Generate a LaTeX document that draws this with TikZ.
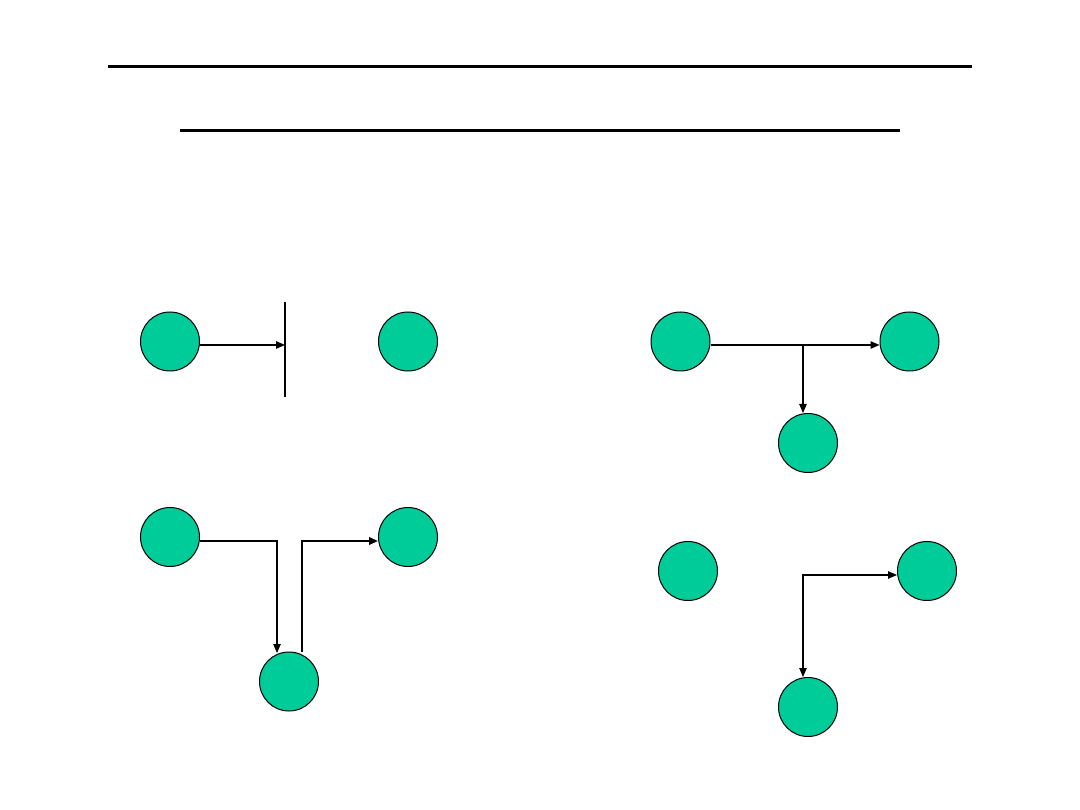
\documentclass[tikz,border=0pt]{standalone}
\usetikzlibrary{arrows.meta}
\definecolor{nodegreen}{RGB}{0,204,153}
\begin{document}
\begin{tikzpicture}[x=1pt,y=-1pt,
  ball/.style={circle,draw=black,line width=1pt,fill=nodegreen,minimum size=59pt,inner sep=0pt},
  conn/.style={line width=1.1pt,-{Triangle[length=9pt,width=7.5pt]}},
  bothconn/.style={line width=1.1pt,{Triangle[length=9pt,width=7.5pt]}-{Triangle[length=9pt,width=7.5pt]}},
  rule/.style={line width=3pt}]
\useasboundingbox (0,0) rectangle (1080,810);
% header rules
\coordinate (r1a) at (108,67); \coordinate (r1b) at (972,67);
\coordinate (r2a) at (180,131); \coordinate (r2b) at (900,131);
\draw[rule] (r1a) -- (r1b);
\draw[rule] (r2a) -- (r2b);
% panel 1
\node[ball] (A) at (170,341.5) {};
\node[ball] (B) at (408,341.5) {};
\coordinate (bartop) at (285,302);
\coordinate (barbot) at (285,397);
\coordinate (barhit) at (285,345);
\draw[line width=1.1pt] (bartop) -- (barbot);
\draw[conn] (A.east |- barhit) -- (barhit);
% panel 2
\node[ball] (C) at (680.5,341.5) {};
\node[ball] (D) at (909.5,341.5) {};
\node[ball] (E) at (808,443) {};
\coordinate (br) at (803,345);
\draw[conn] (C.east |- br) -- (D.west |- br);
\draw[conn] (br) -- (br |- E.north);
% panel 3
\node[ball] (F) at (170,537) {};
\node[ball] (G) at (408,537) {};
\node[ball] (H) at (289,681.5) {};
\coordinate (h1) at (277,653);
\coordinate (h2) at (302,652);
\draw[conn] ([yshift=-4pt]F.east) -| (h1);
\draw[conn,line width=2pt] (h2) |- ([yshift=-4pt]G.west);
% panel 4
\node[ball] (I) at (688,571) {};
\node[ball] (J) at (927,571) {};
\node[ball] (K) at (808,707) {};
\coordinate (corner) at (803,575);
\draw[bothconn] (corner |- K.north) -- (corner) -- ([yshift=-4pt]J.west);
\end{tikzpicture}
\end{document}
